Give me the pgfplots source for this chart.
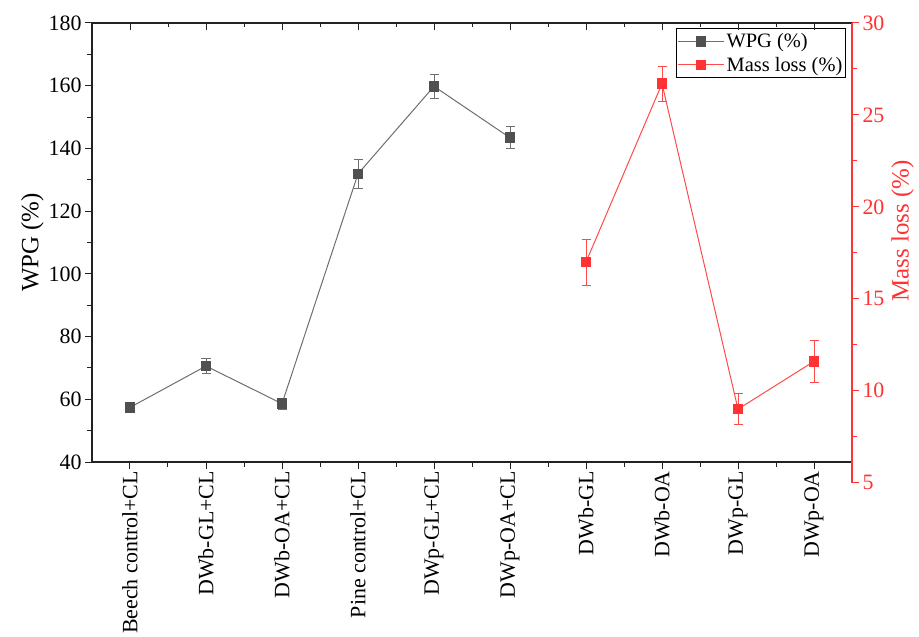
\documentclass[border=0pt]{standalone}
\usepackage{pgfplots}
\pgfplotsset{compat=1.18}
\usepackage{fontspec}
\setmainfont{Liberation Serif}

\definecolor{wpgline}{HTML}{6E6E6E}
\definecolor{wpgmark}{HTML}{505050}
\definecolor{mlred}{HTML}{FF3333}
\definecolor{mlline}{HTML}{FF4A4A}
\definecolor{frame}{HTML}{222222}

\pgfplotsset{
  /pgf/number format/assume math mode=true,
  panel/.style={
    scale only axis, width=760bp,
    xmin=-0.5, xmax=9.5,
    major tick length=7bp, minor tick length=4.5bp,
  },
}

\begin{document}
\begin{tikzpicture}
% WPG axis with the category labels
\begin{axis}[
  panel, height=439bp,
  ymin=40, ymax=180,
  axis line style={frame, line width=1.2bp},
  tick style={frame, line width=1bp},
  xtick={0,...,9},
  xticklabels={Beech control+CL, DWb-GL+CL, DWb-OA+CL, Pine control+CL,
               DWp-GL+CL, DWp-OA+CL, DWb-GL, DWb-OA, DWp-GL, DWp-OA},
  minor x tick num=1,
  xtick pos=bottom, xtick align=outside,
  ytick={40,60,...,180}, minor y tick num=1,
  ytick pos=left, ytick align=outside,
  x tick label style={rotate=90, anchor=east, inner sep=2bp,
                      font=\fontsize{22}{24}\selectfont},
  y tick label style={font=\fontsize{22}{24}\selectfont},
  ylabel={WPG (\%)},
  ylabel style={font=\fontsize{25}{28}\selectfont, yshift=-2bp},
  legend style={at={(rel axis cs:0.992,0.989)}, anchor=north east,
                draw=black, line width=1.2bp, inner xsep=1bp, inner ysep=3bp,
                font=\fontsize{20.5}{22}\selectfont, row sep=4bp},
  legend cell align=left,
  legend image code/.code={
    \draw[mark repeat=2, mark phase=2, #1]
      plot coordinates {(0bp,0bp) (23bp,0bp) (46bp,0bp)};
  },
]
\coordinate (TL) at (rel axis cs:0,1);
\addplot[wpgline, line width=1bp, mark=square*, mark size=4.8bp,
  mark options={fill=wpgmark, draw=wpgmark, solid},
  error bars/.cd, y dir=both, y explicit,
  error bar style={wpgline, line width=0.8bp},
  error mark options={rotate=90, mark size=4.5bp, wpgline, line width=0.8bp}]
coordinates {
  (0,57.4)  +- (0,0.8)
  (1,70.6)  +- (0,2.4)
  (2,58.6)  +- (0,1.7)
  (3,131.9) +- (0,4.5)
  (4,159.8) +- (0,3.9)
  (5,143.4) +- (0,3.5)
};
\addlegendentry{WPG (\%)}
\addlegendimage{mlline, line width=1bp, mark=square*, mark size=4.8bp,
  mark options={fill=mlred, draw=mlred, solid}}
\addlegendentry{Mass loss (\%)}
\end{axis}

% inward ticks along the top edge
\begin{axis}[
  panel, height=439bp,
  ymin=40, ymax=180,
  axis y line=none, axis x line*=top,
  axis line style={draw=none},
  tick style={frame, line width=1bp},
  xtick={0,...,9}, xticklabels={}, minor x tick num=1,
  xtick align=inside,
]
\addplot[draw=none] coordinates {(0,50)};
\end{axis}

% mass loss axis on the right
\begin{axis}[
  panel, height=459.7bp,
  at={(TL)}, anchor=north west,
  ymin=5, ymax=30,
  axis x line=none, axis y line*=right,
  y axis line style={mlred, line width=1.2bp},
  tick style={mlred, line width=1bp},
  ytick={5,10,...,30}, minor y tick num=1,
  ytick align=outside,
  y tick label style={mlred, font=\fontsize{22}{24}\selectfont},
  ylabel={Mass loss (\%)},
  ylabel style={mlred, font=\fontsize{25}{28}\selectfont, at={(ticklabel cs:0.548)}},
]
\addplot[mlline, line width=1bp, mark=square*, mark size=4.8bp,
  mark options={fill=mlred, draw=mlred, solid},
  error bars/.cd, y dir=both, y explicit,
  error bar style={mlline, line width=0.8bp},
  error mark options={rotate=90, mark size=4.5bp, mlline, line width=0.8bp}]
coordinates {
  (6,17.0) +- (0,1.25)
  (7,26.7) +- (0,0.95)
  (8,9.0)  +- (0,0.85)
  (9,11.6) +- (0,1.13)
};
\end{axis}

\pgfresetboundingbox
\path (TL) ++(-92bp,-614bp) rectangle ++(919bp,637bp);
\end{tikzpicture}
\end{document}
